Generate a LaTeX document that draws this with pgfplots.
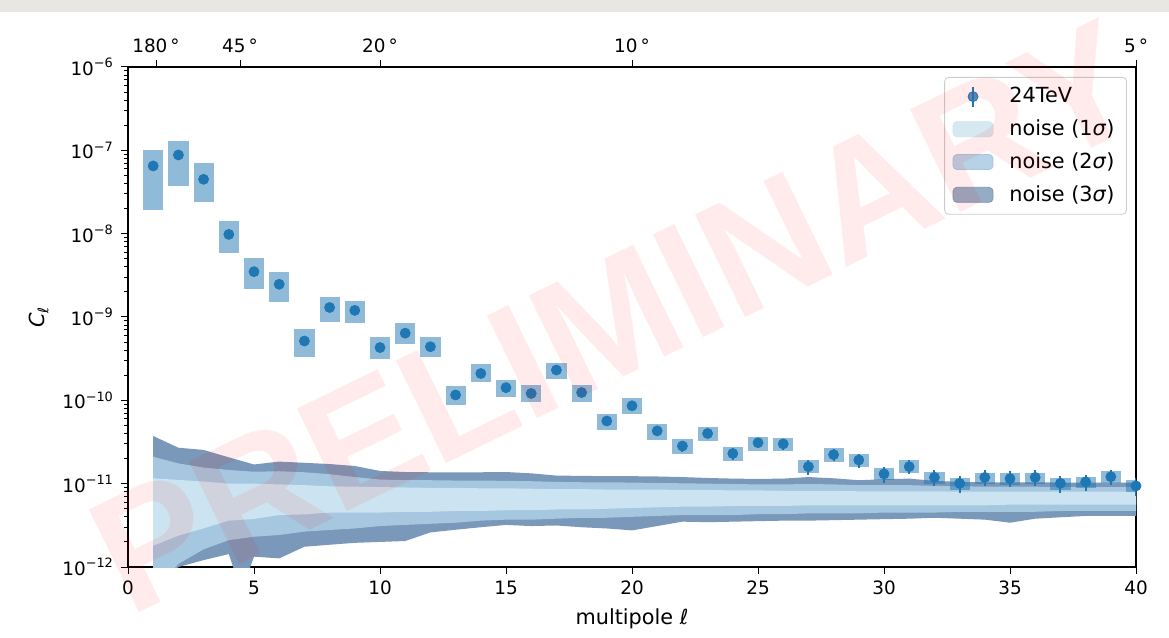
\documentclass[border=0pt]{standalone}
\usepackage{pgfplots}
\pgfplotsset{compat=1.18}
\usepackage{pgfplotstable}
\usepgfplotslibrary{fillbetween}
\usepackage{fontspec}
\setmainfont{DejaVu Sans}
\newfontfamily\wmfont{Liberation Sans}
\definecolor{tabblue}{HTML}{1F77B4}
\definecolor{nA}{HTML}{CCE4F1}
\definecolor{nB}{HTML}{A6C7E0}
\definecolor{nC}{HTML}{7A98B9}
\definecolor{bandgray}{RGB}{233,231,227}

\pgfplotstableread{
l c lo hi se
1 6.5e-8 1.92e-8 1.0e-7 3.0e-9
2 8.8e-8 3.73e-8 1.29e-7 4.0e-9
3 4.49e-8 2.38e-8 7.1e-8 2.0e-9
4 9.8e-9 5.8e-9 1.42e-8 5e-10
5 3.5e-9 2.15e-9 5.1e-9 2e-10
6 2.47e-9 1.5e-9 3.44e-9 1.3e-10
7 5.15e-10 3.34e-10 7.18e-10 3e-11
8 1.3e-9 8.8e-10 1.72e-9 7e-11
9 1.2e-9 8.55e-10 1.57e-9 6e-11
10 4.3e-10 3.16e-10 5.7e-10 3e-11
11 6.4e-10 4.7e-10 8.4e-10 4e-11
12 4.4e-10 3.34e-10 5.7e-10 3e-11
13 1.16e-10 8.7e-11 1.49e-10 1e-11
14 2.1e-10 1.64e-10 2.73e-10 1.6e-11
15 1.42e-10 1.09e-10 1.75e-10 1.2e-11
16 1.21e-10 9.6e-11 1.53e-10 1.1e-11
17 2.31e-10 1.8e-10 2.83e-10 1.8e-11
18 1.24e-10 9.6e-11 1.53e-10 1.1e-11
19 5.65e-11 4.4e-11 6.85e-11 5e-12
20 8.6e-11 6.85e-11 1.06e-10 7e-12
21 4.3e-11 3.37e-11 5.15e-11 4e-12
22 2.83e-11 2.27e-11 3.47e-11 4.5e-12
23 4.0e-11 3.25e-11 4.83e-11 5e-12
24 2.3e-11 1.89e-11 2.73e-11 4e-12
25 3.1e-11 2.49e-11 3.6e-11 4.5e-12
26 3.0e-11 2.45e-11 3.55e-11 4.5e-12
27 1.6e-11 1.33e-11 1.92e-11 3.2e-12
28 2.23e-11 1.84e-11 2.65e-11 3.8e-12
29 1.92e-11 1.6e-11 2.27e-11 3.6e-12
30 1.31e-11 1.11e-11 1.53e-11 2.8e-12
31 1.6e-11 1.36e-11 1.92e-11 3e-12
32 1.19e-11 1.0e-11 1.39e-11 2.6e-12
33 1.01e-11 8.4e-12 1.16e-11 2.4e-12
34 1.19e-11 9.8e-12 1.36e-11 2.6e-12
35 1.15e-11 9.6e-12 1.33e-11 2.5e-12
36 1.19e-11 9.8e-12 1.36e-11 2.6e-12
37 1.01e-11 8.4e-12 1.16e-11 2.3e-12
38 1.05e-11 8.8e-12 1.2e-11 2.3e-12
39 1.21e-11 1.02e-11 1.4e-11 2.5e-12
40 9.4e-12 7.9e-12 1.1e-11 2.2e-12
}\datatab

\pgfplotstableread{
l u3 u2 u1 l1 l2
1 3.73e-11 2.1e-11 1.16e-11 1.8e-12 5e-13
2 2.7e-11 1.75e-11 1.11e-11 2.38e-12 1.09e-12
3 2.54e-11 1.56e-11 1.06e-11 2.91e-12 1.63e-12
4 2.07e-11 1.46e-11 1.0e-11 3.6e-12 2.1e-12
5 1.7e-11 1.39e-11 1.0e-11 3.77e-12 2.31e-12
6 1.84e-11 1.41e-11 9.8e-12 4.2e-12 2.42e-12
7 1.78e-11 1.37e-11 9.6e-12 4.28e-12 2.66e-12
8 1.72e-11 1.3e-11 9.3e-12 4.5e-12 2.78e-12
9 1.63e-11 1.2e-11 9.2e-12 4.5e-12 2.9e-12
10 1.42e-11 1.12e-11 9.1e-12 4.5e-12 3.1e-12
11 1.38e-11 1.1e-11 9.0e-12 4.6e-12 3.2e-12
12 1.37e-11 1.1e-11 8.9e-12 4.6e-12 3.3e-12
13 1.37e-11 1.09e-11 8.9e-12 4.7e-12 3.4e-12
14 1.37e-11 1.09e-11 8.8e-12 4.7e-12 3.6e-12
15 1.38e-11 1.08e-11 8.8e-12 4.8e-12 3.7e-12
16 1.33e-11 1.07e-11 8.7e-12 4.8e-12 3.7e-12
17 1.25e-11 1.05e-11 8.6e-12 4.9e-12 3.8e-12
18 1.24e-11 1.04e-11 8.6e-12 4.9e-12 3.9e-12
19 1.23e-11 1.04e-11 8.5e-12 5.0e-12 3.9e-12
20 1.23e-11 1.03e-11 8.5e-12 5.1e-12 4.0e-12
21 1.22e-11 1.02e-11 8.5e-12 5.2e-12 4.1e-12
22 1.2e-11 1.01e-11 8.4e-12 5.3e-12 4.2e-12
23 1.17e-11 1.0e-11 8.4e-12 5.3e-12 4.2e-12
24 1.15e-11 9.9e-12 8.3e-12 5.4e-12 4.2e-12
25 1.14e-11 9.8e-12 8.3e-12 5.4e-12 4.3e-12
26 1.15e-11 9.8e-12 8.2e-12 5.4e-12 4.3e-12
27 1.2e-11 9.9e-12 8.2e-12 5.5e-12 4.4e-12
28 1.16e-11 9.8e-12 8.2e-12 5.5e-12 4.4e-12
29 1.1e-11 9.6e-12 8.1e-12 5.5e-12 4.4e-12
30 1.13e-11 9.6e-12 8.1e-12 5.5e-12 4.5e-12
31 1.15e-11 9.6e-12 8.1e-12 5.5e-12 4.5e-12
32 1.08e-11 9.4e-12 8.1e-12 5.5e-12 4.5e-12
33 1.05e-11 9.3e-12 8.0e-12 5.5e-12 4.6e-12
34 1.04e-11 9.2e-12 8.0e-12 5.5e-12 4.6e-12
35 1.04e-11 9.2e-12 8.0e-12 5.6e-12 4.6e-12
36 1.04e-11 9.2e-12 8.0e-12 5.6e-12 4.6e-12
37 1.03e-11 9.1e-12 8.0e-12 5.6e-12 4.7e-12
38 1.03e-11 9.1e-12 8.0e-12 5.6e-12 4.7e-12
39 1.03e-11 9.1e-12 8.0e-12 5.6e-12 4.7e-12
40 1.03e-11 9.1e-12 8.0e-12 5.6e-12 4.7e-12
}\noisetab

\pgfplotstableread{
l v
1 3e-13
2 1.0e-12
3 1.21e-12
4 1.43e-12
4.5 5e-13
5 1.33e-12
6 1.27e-12
7 1.75e-12
8 1.85e-12
9 1.95e-12
10 2.0e-12
11 2.05e-12
12 2.6e-12
13 2.8e-12
14 3.0e-12
15 3.2e-12
16 3.1e-12
17 3.15e-12
18 3.0e-12
19 2.9e-12
20 2.75e-12
21 3.1e-12
22 3.5e-12
23 3.45e-12
24 3.5e-12
25 3.55e-12
26 3.6e-12
27 3.6e-12
28 3.65e-12
29 3.7e-12
30 3.75e-12
31 3.8e-12
32 3.9e-12
33 3.8e-12
34 3.7e-12
35 3.4e-12
36 3.8e-12
37 3.95e-12
38 4.1e-12
39 4.1e-12
40 4.1e-12
}\lowthree

\begin{document}
\begin{tikzpicture}
\begin{axis}[name=ax, scale only axis, width=504pt, height=250pt,
  xmin=0, xmax=40, ymode=log, ymin=1e-12, ymax=1e-6,
  xtick={0,5,...,40},
  ytick={1e-12,1e-11,1e-10,1e-9,1e-8,1e-7,1e-6},
  yticklabels={10\textsuperscript{−12},10\textsuperscript{−11},10\textsuperscript{−10},10\textsuperscript{−9},10\textsuperscript{−8},10\textsuperscript{−7},10\textsuperscript{−6}},
  xtick pos=lower, ytick pos=left, tick align=outside,
  major tick length=3.5pt, minor tick length=2pt,
  every tick/.style={black, line width=0.5pt},
  axis line style={line width=0.6pt},
  tick label style={font=\fontsize{9.2}{11}\selectfont},
  label style={font=\fontsize{10.4}{12}\selectfont},
  xlabel={multipole \textit{ℓ}},
  ylabel={\textit{C}\textsubscript{\textit{ℓ}}},
  /pgf/number format/assume math mode=true,
  legend style={at={(rel axis cs:0.991,0.98)}, anchor=north east,
    draw=black!20, fill=white, fill opacity=0.8, text opacity=1,
    rounded corners=2pt, font=\fontsize{10.4}{12}\selectfont,
    row sep=3pt, inner xsep=4pt, inner ysep=3pt,
    /tikz/every odd column/.append style={column sep=6pt}},
  legend cell align=left,
]
\addplot[forget plot, name path=u3, draw=none] table[x=l,y=u3]{\noisetab};
\addplot[forget plot, name path=u2, draw=none] table[x=l,y=u2]{\noisetab};
\addplot[forget plot, name path=u1, draw=none] table[x=l,y=u1]{\noisetab};
\addplot[forget plot, name path=l1, draw=none] table[x=l,y=l1]{\noisetab};
\addplot[forget plot, name path=l2, draw=none] table[x=l,y=l2]{\noisetab};
\addplot[forget plot, name path=l3, draw=none] table[x=l,y=v]{\lowthree};
\addplot[forget plot, fill=nC, draw=none] fill between[of=u3 and l3];
\addplot[forget plot, fill=nB, draw=none] fill between[of=u2 and l2];
\addplot[forget plot, fill=nA, draw=none] fill between[of=u1 and l1];

\addplot[forget plot, only marks, mark=none,
  error bars/.cd, y dir=both, y explicit, error mark=none,
  error bar style={draw=tabblue, line width=10.1pt, opacity=0.5}]
  table[x=l, y=c, y error plus expr={\thisrow{hi}-\thisrow{c}}, y error minus expr={\thisrow{c}-\thisrow{lo}}]{\datatab};

\addplot[forget plot, only marks, mark=*, mark size=2.5pt, color=tabblue,
  mark options={draw=tabblue, fill=tabblue},
  error bars/.cd, y dir=both, y explicit, error mark=none,
  error bar style={draw=tabblue, line width=1pt}]
  table[x=l, y=c, y error=se]{\datatab};

\addlegendimage{legend image code/.code={\draw[tabblue,line width=1pt](10pt,-5pt)--(10pt,5pt); \fill[tabblue](10pt,0pt) circle (2.5pt);}}
\addlegendentry{24TeV}
\addlegendimage{legend image code/.code={\fill[nA](0pt,-3.75pt) rectangle (20pt,3.75pt);}}
\addlegendentry{noise (1\textit{σ})}
\addlegendimage{legend image code/.code={\fill[nB](0pt,-3.75pt) rectangle (20pt,3.75pt);}}
\addlegendentry{noise (2\textit{σ})}
\addlegendimage{legend image code/.code={\fill[nC](0pt,-3.75pt) rectangle (20pt,3.75pt);}}
\addlegendentry{noise (3\textit{σ})}
\end{axis}

\begin{axis}[scale only axis, width=504pt, height=250pt,
  at={(ax.south west)}, anchor=south west,
  xmin=0, xmax=40, ymin=0, ymax=1,
  axis x line*=top, axis y line=none,
  xtick={1.11111,4.44444,10,20,40},
  xticklabels={180\,°,45\,°,20\,°,10\,°,5\,°},
  tick align=outside, major tick length=3.5pt,
  every tick/.style={black, line width=0.5pt},
  axis line style={line width=0.6pt, -},
  tick label style={font=\fontsize{9.2}{11}\selectfont},
]
\end{axis}

\fill[bandgray] ([xshift=-64pt,yshift=27.5pt]ax.north west) rectangle ([xshift=16.5pt,yshift=33.5pt]ax.north east);

\node[rotate=26, text=red, opacity=0.08, font=\wmfont\bfseries\fontsize{83}{83}\selectfont]
  at ([xshift=244pt,yshift=125pt]ax.south west) {PRELIMINARY};

\pgfresetboundingbox
\path[use as bounding box] ([xshift=-64pt,yshift=-35pt]ax.south west) rectangle ([xshift=16.5pt,yshift=33.5pt]ax.north east);
\end{tikzpicture}
\end{document}
